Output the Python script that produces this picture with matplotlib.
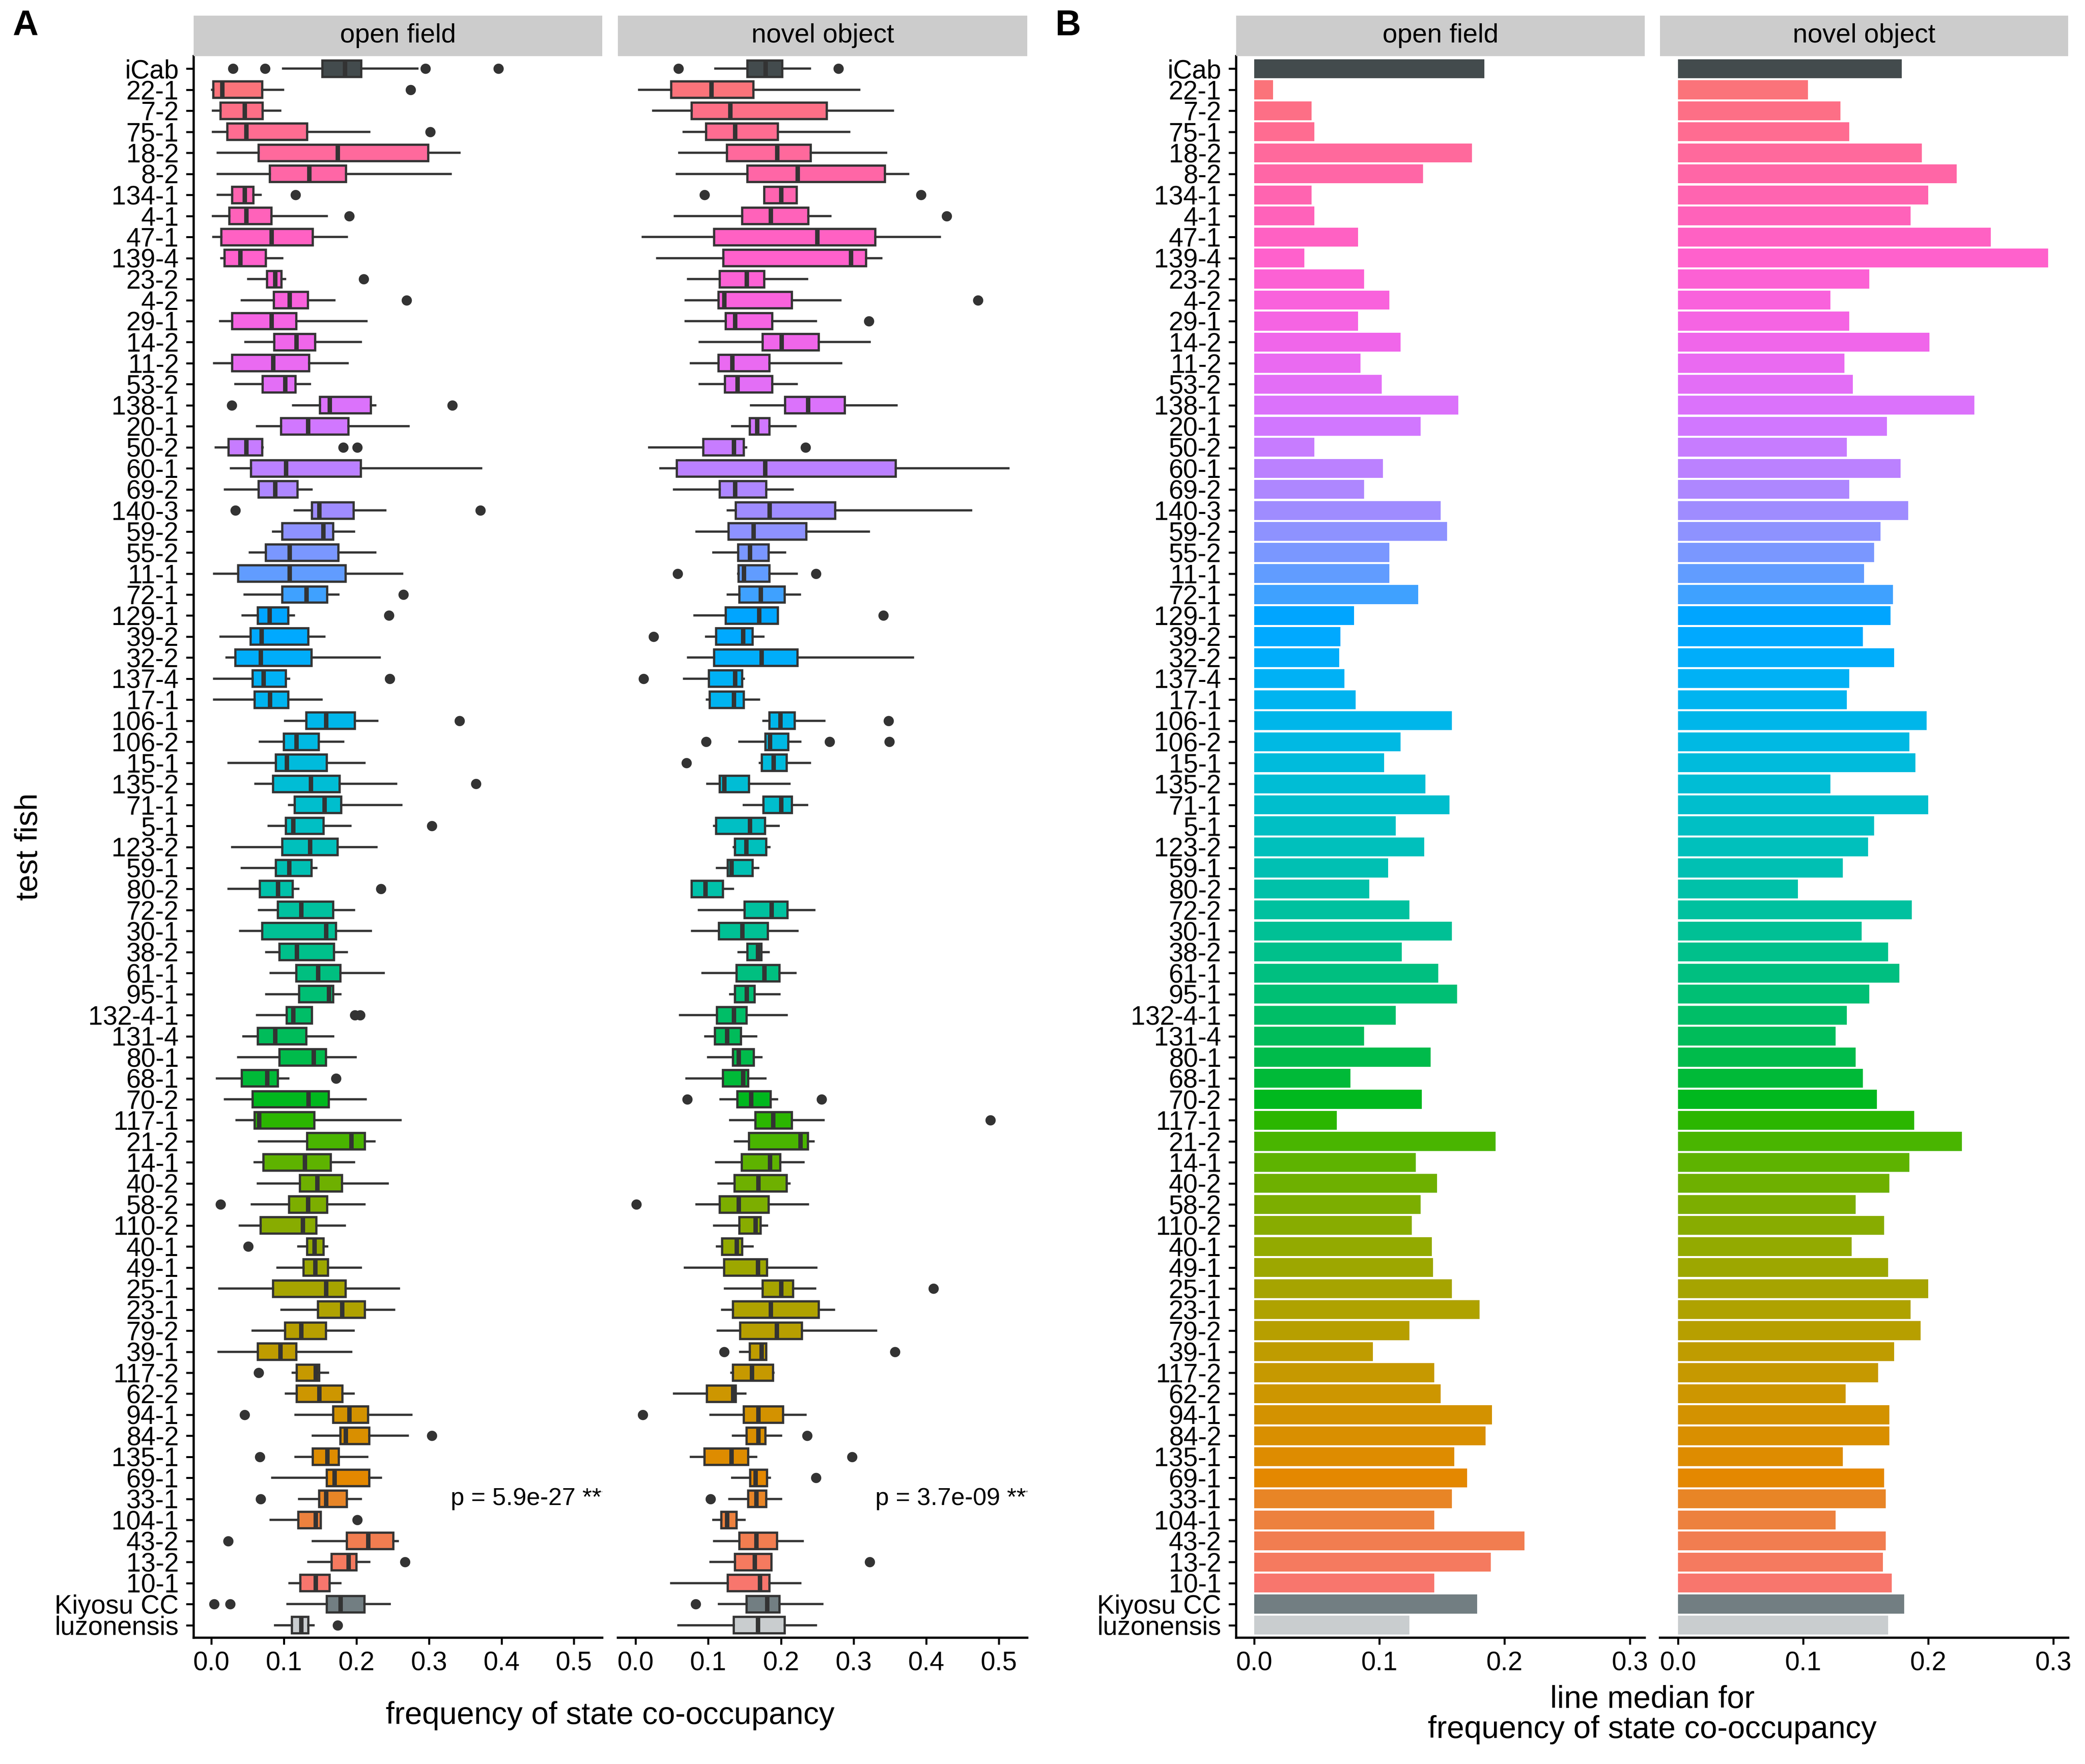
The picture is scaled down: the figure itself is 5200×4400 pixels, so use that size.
import numpy as np
import matplotlib
matplotlib.use("Agg")
import matplotlib.pyplot as plt

plt.rcParams['font.family'] = ['Liberation Sans', 'DejaVu Sans']

lines = ["iCab", "22-1", "7-2", "75-1", "18-2", "8-2", "134-1", "4-1", "47-1", "139-4",
         "23-2", "4-2", "29-1", "14-2", "11-2", "53-2", "138-1", "20-1", "50-2", "60-1",
         "69-2", "140-3", "59-2", "55-2", "11-1", "72-1", "129-1", "39-2", "32-2", "137-4",
         "17-1", "106-1", "106-2", "15-1", "135-2", "71-1", "5-1", "123-2", "59-1", "80-2",
         "72-2", "30-1", "38-2", "61-1", "95-1", "132-4-1", "131-4", "80-1", "68-1", "70-2",
         "117-1", "21-2", "14-1", "40-2", "58-2", "110-2", "40-1", "49-1", "25-1", "23-1",
         "79-2", "39-1", "117-2", "62-2", "94-1", "84-2", "135-1", "69-1", "33-1", "104-1",
         "43-2", "13-2", "10-1", "Kiyosu CC", "luzonensis"]

# ---- open field: whisker low, q1, median, q3, whisker high, outliers
of_lo = [0.099, 0.001, 0.002, 0.002, 0.009, 0.009, 0.009, 0.002, 0.003, 0.014,
         0.051, 0.042, 0.012, 0.047, 0.004, 0.033, 0.113, 0.063, 0.006, 0.027,
         0.019, 0.115, 0.085, 0.053, 0.004, 0.046, 0.043, 0.013, 0.021, 0.004,
         0.004, 0.102, 0.067, 0.024, 0.061, 0.107, 0.079, 0.029, 0.042, 0.024,
         0.066, 0.040, 0.076, 0.082, 0.076, 0.063, 0.044, 0.037, 0.008, 0.019,
         0.035, 0.066, 0.060, 0.064, 0.056, 0.039, 0.120, 0.091, 0.011, 0.097,
         0.057, 0.010, 0.112, 0.103, 0.116, 0.140, 0.116, 0.084, 0.121, 0.082,
         0.140, 0.134, 0.108, 0.105, 0.088]
of_q1 = [0.153, 0.003, 0.013, 0.022, 0.065, 0.081, 0.029, 0.025, 0.014, 0.018,
         0.077, 0.086, 0.029, 0.087, 0.029, 0.071, 0.150, 0.096, 0.024, 0.055,
         0.065, 0.139, 0.098, 0.075, 0.037, 0.098, 0.064, 0.054, 0.033, 0.057,
         0.060, 0.131, 0.100, 0.089, 0.085, 0.115, 0.103, 0.098, 0.089, 0.067,
         0.092, 0.070, 0.094, 0.117, 0.121, 0.104, 0.064, 0.094, 0.042, 0.057,
         0.060, 0.132, 0.072, 0.122, 0.107, 0.068, 0.132, 0.127, 0.085, 0.147,
         0.102, 0.064, 0.118, 0.118, 0.168, 0.178, 0.140, 0.159, 0.149, 0.120,
         0.187, 0.166, 0.123, 0.159, 0.111]
of_med = [0.184, 0.015, 0.046, 0.048, 0.174, 0.135, 0.046, 0.048, 0.083, 0.040,
          0.088, 0.108, 0.083, 0.117, 0.085, 0.102, 0.163, 0.133, 0.048, 0.103,
          0.088, 0.149, 0.154, 0.108, 0.108, 0.131, 0.080, 0.069, 0.068, 0.072,
          0.081, 0.158, 0.117, 0.104, 0.137, 0.156, 0.113, 0.136, 0.107, 0.092,
          0.124, 0.158, 0.118, 0.147, 0.162, 0.113, 0.088, 0.141, 0.077, 0.134,
          0.066, 0.193, 0.129, 0.146, 0.133, 0.126, 0.142, 0.143, 0.158, 0.180,
          0.124, 0.095, 0.144, 0.149, 0.190, 0.185, 0.160, 0.170, 0.158, 0.144,
          0.216, 0.189, 0.144, 0.178, 0.124]
of_q3 = [0.207, 0.070, 0.071, 0.132, 0.299, 0.186, 0.058, 0.083, 0.140, 0.075,
         0.097, 0.133, 0.117, 0.143, 0.135, 0.116, 0.220, 0.189, 0.070, 0.206,
         0.119, 0.196, 0.168, 0.175, 0.185, 0.160, 0.106, 0.134, 0.138, 0.103,
         0.106, 0.198, 0.148, 0.159, 0.177, 0.179, 0.155, 0.174, 0.138, 0.112,
         0.168, 0.172, 0.169, 0.178, 0.168, 0.139, 0.131, 0.158, 0.092, 0.162,
         0.142, 0.212, 0.165, 0.180, 0.160, 0.145, 0.155, 0.161, 0.185, 0.212,
         0.158, 0.117, 0.149, 0.181, 0.216, 0.218, 0.176, 0.218, 0.187, 0.151,
         0.251, 0.200, 0.163, 0.211, 0.134]
of_hi = [0.284, 0.099, 0.095, 0.218, 0.342, 0.330, 0.068, 0.159, 0.187, 0.098,
         0.102, 0.170, 0.214, 0.206, 0.188, 0.136, 0.226, 0.272, 0.071, 0.372,
         0.138, 0.240, 0.197, 0.226, 0.263, 0.175, 0.114, 0.156, 0.232, 0.107,
         0.152, 0.229, 0.182, 0.211, 0.255, 0.262, 0.192, 0.228, 0.145, 0.120,
         0.197, 0.220, 0.187, 0.238, 0.178, 0.139, 0.168, 0.199, 0.106, 0.213,
         0.261, 0.225, 0.197, 0.243, 0.211, 0.184, 0.160, 0.206, 0.259, 0.252,
         0.196, 0.193, 0.161, 0.196, 0.276, 0.271, 0.215, 0.234, 0.206, 0.151,
         0.257, 0.218, 0.178, 0.246, 0.141]
of_out = [[0.030, 0.074, 0.295, 0.396], [0.275], [], [0.302], [], [], [0.116], [0.190], [], [],
          [0.210], [0.269], [], [], [], [], [0.028, 0.332], [], [0.182, 0.201], [],
          [], [0.033, 0.371], [], [], [], [0.265], [0.245], [], [], [0.246],
          [], [0.342], [], [], [0.365], [], [0.304], [], [], [0.234],
          [], [], [], [], [], [0.198, 0.205], [], [], [0.172], [],
          [], [], [], [], [0.013], [], [0.051], [], [], [],
          [], [], [0.065], [], [0.046], [0.304], [0.067], [], [0.068], [0.201],
          [0.023], [0.267], [], [0.004, 0.026], [0.174]]

# ---- novel object
no_lo = [0.110, 0.005, 0.024, 0.066, 0.060, 0.057, 0.177, 0.054, 0.010, 0.030,
         0.072, 0.069, 0.069, 0.088, 0.076, 0.088, 0.159, 0.133, 0.019, 0.034,
         0.053, 0.127, 0.084, 0.107, 0.141, 0.127, 0.081, 0.097, 0.072, 0.067,
         0.098, 0.176, 0.143, 0.171, 0.099, 0.149, 0.108, 0.135, 0.112, 0.077,
         0.087, 0.078, 0.142, 0.092, 0.130, 0.061, 0.096, 0.100, 0.070, 0.117,
         0.130, 0.137, 0.111, 0.114, 0.084, 0.108, 0.112, 0.068, 0.123, 0.119,
         0.113, 0.144, 0.132, 0.053, 0.103, 0.134, 0.076, 0.133, 0.129, 0.107,
         0.108, 0.103, 0.049, 0.115, 0.059]
no_q1 = [0.154, 0.049, 0.077, 0.097, 0.126, 0.154, 0.177, 0.147, 0.108, 0.121,
         0.116, 0.114, 0.124, 0.175, 0.114, 0.123, 0.206, 0.157, 0.093, 0.057,
         0.116, 0.138, 0.128, 0.141, 0.142, 0.143, 0.124, 0.111, 0.108, 0.101,
         0.102, 0.184, 0.179, 0.174, 0.116, 0.176, 0.111, 0.137, 0.127, 0.077,
         0.150, 0.115, 0.154, 0.139, 0.137, 0.112, 0.109, 0.134, 0.120, 0.140,
         0.165, 0.156, 0.146, 0.136, 0.116, 0.143, 0.119, 0.122, 0.175, 0.134,
         0.144, 0.157, 0.134, 0.098, 0.149, 0.153, 0.095, 0.158, 0.155, 0.118,
         0.143, 0.137, 0.127, 0.153, 0.135]
no_med = [0.179, 0.104, 0.130, 0.137, 0.195, 0.223, 0.200, 0.186, 0.250, 0.296,
          0.153, 0.122, 0.137, 0.201, 0.133, 0.140, 0.237, 0.167, 0.135, 0.178,
          0.137, 0.184, 0.162, 0.157, 0.149, 0.172, 0.170, 0.148, 0.173, 0.137,
          0.135, 0.199, 0.185, 0.190, 0.122, 0.200, 0.157, 0.152, 0.132, 0.096,
          0.187, 0.147, 0.168, 0.177, 0.153, 0.135, 0.126, 0.142, 0.148, 0.159,
          0.189, 0.227, 0.185, 0.169, 0.142, 0.165, 0.139, 0.168, 0.200, 0.186,
          0.194, 0.173, 0.160, 0.134, 0.169, 0.169, 0.132, 0.165, 0.166, 0.126,
          0.166, 0.164, 0.171, 0.181, 0.168]
no_q3 = [0.202, 0.162, 0.263, 0.196, 0.241, 0.343, 0.222, 0.238, 0.330, 0.317,
         0.177, 0.215, 0.188, 0.252, 0.184, 0.188, 0.288, 0.184, 0.149, 0.358,
         0.180, 0.275, 0.235, 0.183, 0.184, 0.205, 0.196, 0.161, 0.223, 0.147,
         0.149, 0.219, 0.210, 0.208, 0.156, 0.215, 0.178, 0.180, 0.161, 0.120,
         0.209, 0.182, 0.173, 0.198, 0.164, 0.153, 0.145, 0.163, 0.155, 0.186,
         0.215, 0.237, 0.199, 0.208, 0.183, 0.172, 0.147, 0.181, 0.217, 0.252,
         0.229, 0.180, 0.189, 0.138, 0.203, 0.179, 0.155, 0.181, 0.180, 0.139,
         0.195, 0.187, 0.184, 0.198, 0.205]
no_hi = [0.240, 0.308, 0.354, 0.294, 0.345, 0.375, 0.222, 0.268, 0.419, 0.338,
         0.236, 0.282, 0.248, 0.322, 0.283, 0.222, 0.359, 0.220, 0.152, 0.513,
         0.216, 0.462, 0.321, 0.206, 0.222, 0.226, 0.196, 0.176, 0.382, 0.149,
         0.170, 0.260, 0.227, 0.240, 0.212, 0.236, 0.197, 0.184, 0.169, 0.134,
         0.246, 0.223, 0.183, 0.220, 0.198, 0.208, 0.166, 0.173, 0.179, 0.195,
         0.259, 0.245, 0.231, 0.212, 0.237, 0.181, 0.161, 0.249, 0.247, 0.273,
         0.331, 0.180, 0.190, 0.151, 0.234, 0.200, 0.166, 0.185, 0.200, 0.150,
         0.230, 0.187, 0.227, 0.257, 0.248]
no_out = [[0.059, 0.279], [], [], [], [], [], [0.095, 0.393], [0.428], [], [],
          [], [0.471], [0.321], [], [], [], [], [], [0.234], [],
          [], [], [], [], [0.058, 0.248], [], [0.341], [0.025], [], [0.011],
          [], [0.348], [0.097, 0.267, 0.349], [0.070], [], [], [], [], [], [],
          [], [], [], [], [], [], [], [], [], [0.071, 0.256],
          [0.488], [], [], [], [0.001], [], [], [], [0.410], [],
          [], [0.122, 0.357], [], [], [0.010], [0.236], [0.298], [0.248], [0.103], [],
          [], [0.322], [], [0.083], []]

facets = ["open field", "novel object"]
p_labels = ["p = 5.9e-27 ****", "p = 3.7e-09 ****"]
p_x = [0.33, 0.33]
p_row = "33-1"
gray_cols = {"iCab": "#434B4D", "Kiyosu CC": "#727E82", "luzonensis": "#C9CDCF"}


def hcl_rgb(h, c=100.0, l=65.0):
    xn, yn, zn = 95.047, 100.0, 108.883
    u = c * np.cos(np.radians(h))
    v = c * np.sin(np.radians(h))
    y = yn * ((l + 16) / 116) ** 3
    un = 4 * xn / (xn + 15 * yn + 3 * zn)
    vn = 9 * yn / (xn + 15 * yn + 3 * zn)
    up = u / (13 * l) + un
    vp = v / (13 * l) + vn
    x = 9 * y * up / (4 * vp)
    z = -x / 3 - 5 * y + 3 * y / vp
    m = np.array([[3.240479, -1.537150, -0.498535],
                  [-0.969256, 1.875992, 0.041556],
                  [0.055648, -0.204043, 1.057311]])
    rgb = m @ np.array([x, y, z]) / 100
    rgb = np.where(rgb > 0.00304, 1.055 * np.abs(rgb) ** (1 / 2.4) - 0.055, 12.92 * rgb)
    return tuple(np.clip(rgb, 0, 1))


# ggplot hue palette, first level at the bottom
colored = [l for l in lines if l not in gray_cols]
n_col = len(colored)
hues = 15 + 360 * np.arange(n_col) / n_col
colors = []
k = 0
for l in lines:
    if l in gray_cols:
        colors.append(gray_cols[l])
    else:
        colors.append(hcl_rgb(hues[n_col - 1 - k]))
        k += 1

n = len(lines)
pos = np.arange(n, 0, -1)

W, H = 5200, 4400
fig = plt.figure(figsize=(13, 11), dpi=400)


def rect(x0, x1, y0, y1):
    return [x0 / W, 1 - y1 / H, (x1 - x0) / W, (y1 - y0) / H]


panel_x = [(483, 1502), (1541, 2562), (3083, 4102), (4140, 5158)]
ptop, pbot, stop = 140, 4085, 39

box_data = [(of_lo, of_q1, of_med, of_q3, of_hi, of_out),
            (no_lo, no_q1, no_med, no_q3, no_hi, no_out)]
ec = "#333333"
tick_fs = 11.8


def style_axes(ax, first):
    for s in ["top", "right"]:
        ax.spines[s].set_visible(False)
    ax.spines["bottom"].set_linewidth(1.0)
    ax.spines["left"].set_linewidth(1.0)
    ax.set_ylim(0.4, n + 0.6)
    ax.set_yticks(pos)
    if first:
        ax.set_yticklabels(lines)
        ax.tick_params(axis="y", length=3.5, width=0.9, pad=3.2, labelsize=tick_fs)
    else:
        ax.spines["left"].set_visible(False)
        ax.tick_params(axis="y", left=False, labelleft=False)
    ax.tick_params(axis="x", length=3, width=0.9, pad=3, labelsize=tick_fs)


def add_strip(x0, x1, title):
    sax = fig.add_axes(rect(x0, x1, stop, ptop))
    sax.set_facecolor("#CCCCCC")
    for s in sax.spines.values():
        s.set_visible(False)
    sax.set_xticks([])
    sax.set_yticks([])
    sax.text(0.5, 0.5, title, ha="center", va="center", fontsize=12, transform=sax.transAxes)


# ---- panel A: box plots
for j, (lo, q1, med, q3, hi, out) in enumerate(box_data):
    x0, x1 = panel_x[j]
    ax = fig.add_axes(rect(x0, x1, ptop, pbot))
    stats = [dict(med=med[i], q1=q1[i], q3=q3[i], whislo=lo[i], whishi=hi[i], fliers=out[i])
             for i in range(n)]
    bp = ax.bxp(stats, positions=pos, widths=0.78, orientation="horizontal",
                patch_artist=True, showcaps=False,
                boxprops=dict(edgecolor=ec, linewidth=1.0),
                whiskerprops=dict(color=ec, linewidth=1.0),
                medianprops=dict(color=ec, linewidth=2.0, solid_capstyle="butt"),
                flierprops=dict(marker="o", markerfacecolor=ec, markeredgecolor="none",
                                markersize=4.6))
    for patch, col in zip(bp["boxes"], colors):
        patch.set_facecolor(col)
    ax.set_xlim(-0.0243, 0.539)
    ax.set_xticks([0.0, 0.1, 0.2, 0.3, 0.4, 0.5])
    ax.set_xticklabels(["0.0", "0.1", "0.2", "0.3", "0.4", "0.5"])
    style_axes(ax, j == 0)
    ax.text(p_x[j], pos[lines.index(p_row)], p_labels[j], fontsize=11,
            ha="left", va="center", clip_on=True)
    add_strip(x0, x1, facets[j])

# ---- panel B: bars of line medians
for j, med in enumerate([of_med, no_med]):
    x0, x1 = panel_x[2 + j]
    ax = fig.add_axes(rect(x0, x1, ptop, pbot))
    ax.barh(pos, med, height=0.9, color=colors)
    ax.set_xlim(-0.0143, 0.312)
    ax.set_xticks([0.0, 0.1, 0.2, 0.3])
    ax.set_xticklabels(["0.0", "0.1", "0.2", "0.3"])
    style_axes(ax, j == 0)
    add_strip(x0, x1, facets[j])

fig.text(64 / W, 1 - 65 / H, "A", fontsize=16, fontweight="bold", ha="center", va="center")
fig.text(2664 / W, 1 - 65 / H, "B", fontsize=16, fontweight="bold", ha="center", va="center")
fig.text(73 / W, 1 - 2112 / H, "test fish", fontsize=14, rotation=90, ha="center", va="center")
fig.text(1522 / W, 1 - 4280 / H, "frequency of state co-occupancy", fontsize=14,
         ha="center", va="center")
fig.text(4121 / W, 1 - 4277 / H, "line median for\nfrequency of state co-occupancy",
         fontsize=14, ha="center", va="center", linespacing=1.05)

fig.savefig("out.png", dpi=400)
